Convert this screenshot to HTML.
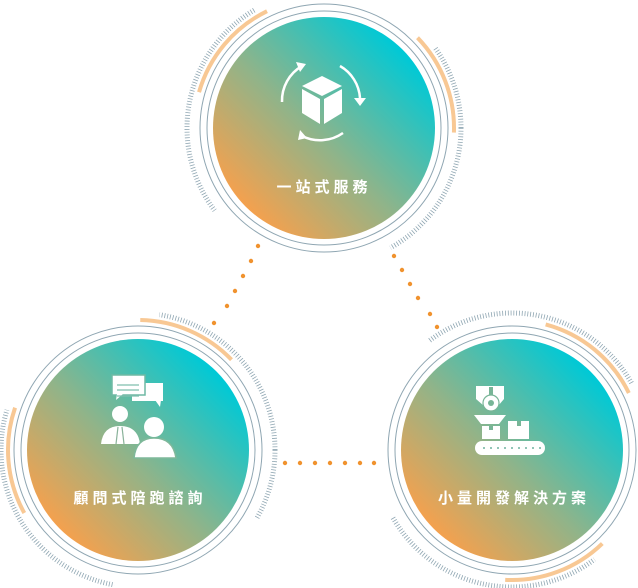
<!DOCTYPE html>
<html><head><meta charset="utf-8"><style>
html,body{margin:0;padding:0;background:#fff;width:638px;height:588px;overflow:hidden}
svg{display:block;overflow:hidden}
text{font-family:"Liberation Sans","Noto Sans CJK TC",sans-serif;font-weight:bold;font-size:15px;fill:#fff;letter-spacing:4px}
</style></head><body>
<svg width="638" height="588" viewBox="0 0 638 588">
<defs>
<linearGradient id="g" x1="0.15" y1="0.85" x2="0.85" y2="0.15">
<stop offset="0" stop-color="#f3a14f"/><stop offset="0.45" stop-color="#8fb48a"/><stop offset="1" stop-color="#00c9d6"/>
</linearGradient>
<mask id="t1" maskUnits="userSpaceOnUse" x="-200" y="-200" width="400" height="400"><circle r="137" fill="none" stroke="#fff" stroke-width="10" pathLength="360" stroke-dasharray="97 263" transform="rotate(143)"/><circle r="137" fill="none" stroke="#fff" stroke-width="10" pathLength="360" stroke-dasharray="97 263" transform="rotate(-36)"/></mask>
<mask id="t2" maskUnits="userSpaceOnUse" x="-200" y="-200" width="400" height="400"><circle r="137" fill="none" stroke="#fff" stroke-width="10" pathLength="360" stroke-dasharray="111 249" transform="rotate(-81)"/><circle r="137" fill="none" stroke="#fff" stroke-width="10" pathLength="360" stroke-dasharray="97 263" transform="rotate(100)"/></mask>
<mask id="t3" maskUnits="userSpaceOnUse" x="-200" y="-200" width="400" height="400"><circle r="137" fill="none" stroke="#fff" stroke-width="10" pathLength="360" stroke-dasharray="98 262" transform="rotate(233)"/><circle r="137" fill="none" stroke="#fff" stroke-width="10" pathLength="360" stroke-dasharray="98 262" transform="rotate(53)"/></mask>
</defs>

<g fill="#f0922e">
<circle cx="258" cy="246" r="2.2"/><circle cx="251" cy="261" r="2.2"/><circle cx="243" cy="276" r="2.2"/><circle cx="235" cy="291" r="2.2"/><circle cx="227" cy="306" r="2.2"/><circle cx="214" cy="323" r="2.2"/>
<circle cx="394" cy="256" r="2.2"/><circle cx="402" cy="270" r="2.2"/><circle cx="410" cy="284" r="2.2"/><circle cx="418" cy="298" r="2.2"/><circle cx="430" cy="314" r="2.2"/><circle cx="437" cy="327" r="2.2"/>
<circle cx="285" cy="463" r="2.2"/><circle cx="300" cy="463" r="2.2"/><circle cx="315" cy="463" r="2.2"/><circle cx="330" cy="463" r="2.2"/><circle cx="345" cy="463" r="2.2"/><circle cx="360" cy="463" r="2.2"/><circle cx="374" cy="463" r="2.2"/>
</g>

<g transform="translate(324,128)">
<circle r="137" fill="none" stroke="#8fa6b2" stroke-width="5" stroke-dasharray="0.8 2" mask="url(#t1)"/>
<circle r="111" fill="url(#g)"/>
<circle r="117" fill="none" stroke="#8fa6b2" stroke-width="1"/>
<circle r="124" fill="none" stroke="#8fa6b2" stroke-width="1"/>
<circle r="130" fill="none" stroke="#f8c894" stroke-width="4" pathLength="360" stroke-dasharray="48 312" transform="rotate(196)"/>
<circle r="130" fill="none" stroke="#f8c894" stroke-width="4" pathLength="360" stroke-dasharray="46 314" transform="rotate(-44)"/>
</g>
<g fill="#fff">
<polygon points="322,76 342,86 322,96 302,86"/><polygon points="302,89 320,99 320,124 302,113" /><polygon points="324,99 342,89 342,113 324,124"/>
</g>
<g fill="none" stroke="#fff" stroke-width="2.5">
<path d="M282,102 A40,40 0 0 1 302,66"/><path d="M340,66 A40,40 0 0 1 360,98"/><path d="M343,133 A40,40 0 0 1 302,136"/>
</g>
<g fill="#fff"><polygon points="296,62 306,64 300,72"/><polygon points="354,98 366,98 360,106"/><polygon points="300,130 298,140 307,138"/></g>
<text x="324" y="192" text-anchor="middle">一站式服務</text>

<g transform="translate(138,450)">
<circle r="137" fill="none" stroke="#8fa6b2" stroke-width="5" stroke-dasharray="0.8 2" mask="url(#t2)"/>
<circle r="111" fill="url(#g)"/>
<circle r="117" fill="none" stroke="#8fa6b2" stroke-width="1"/>
<circle r="124" fill="none" stroke="#8fa6b2" stroke-width="1"/>
<circle r="130" fill="none" stroke="#f8c894" stroke-width="4" pathLength="360" stroke-dasharray="45 315" transform="rotate(-89)"/>
<circle r="130" fill="none" stroke="#f8c894" stroke-width="4" pathLength="360" stroke-dasharray="48 312" transform="rotate(151)"/>
</g>
<g fill="#fff">
<rect x="132" y="383" width="31" height="18"/><polygon points="155,400 161,400 160,407"/>
<rect x="112" y="375" width="33" height="20" stroke="#6fb9a4" stroke-width="1.5"/><polygon points="117,394 123,394 116,400"/>
<circle cx="120" cy="414" r="8"/><path d="M101,444 Q103,426 120,426 Q138,426 140,444 Z"/>
<circle cx="154" cy="427" r="10"/><path d="M134,458 Q136,438 154,438 Q173,438 176,458 Z" stroke="#7fb89a" stroke-width="1.5"/>
</g>
<g fill="none" stroke="#8ab39b" stroke-width="1.2"><path d="M116,444 L118,427 M124,444 L122,427"/><path d="M117,396 h22 M117,390 h22 M117,385 h22" stroke="#7fbfae"/></g>
<text x="140" y="503" text-anchor="middle">顧問式陪跑諮詢</text>

<g transform="translate(512,450)">
<circle r="137" fill="none" stroke="#8fa6b2" stroke-width="5" stroke-dasharray="0.8 2" mask="url(#t3)"/>
<circle r="111" fill="url(#g)"/>
<circle r="117" fill="none" stroke="#8fa6b2" stroke-width="1"/>
<circle r="124" fill="none" stroke="#8fa6b2" stroke-width="1"/>
<circle r="130" fill="none" stroke="#f8c894" stroke-width="4" pathLength="360" stroke-dasharray="49 311" transform="rotate(-75)"/>
<circle r="130" fill="none" stroke="#f8c894" stroke-width="4" pathLength="360" stroke-dasharray="47 313" transform="rotate(46)"/>
</g>
<g fill="#fff">
<path d="M476,386 H504 V399 L498,406 H484 L476,399 Z"/>
<circle cx="491" cy="403" r="8" stroke="#78b597" stroke-width="1.2"/>
<polygon points="474,415 506,415 499,424 481,424"/>
<rect x="482" y="426" width="18" height="13"/><rect x="508" y="421" width="21" height="18"/>
<rect x="475" y="441" width="70" height="14" rx="7"/>
</g>
<circle cx="491" cy="403" r="3" fill="#78b597"/>
<g fill="#78b597"><rect x="489" y="387" width="4" height="8"/><rect x="489" y="426" width="4" height="4"/><rect x="517" y="421" width="4" height="5"/></g>
<g fill="#6fb3a0"><circle cx="484" cy="448" r="1"/><circle cx="491" cy="448" r="1"/><circle cx="498" cy="448" r="1"/><circle cx="505" cy="448" r="1"/><circle cx="512" cy="448" r="1"/><circle cx="519" cy="448" r="1"/><circle cx="526" cy="448" r="1"/><circle cx="533" cy="448" r="1"/><circle cx="540" cy="448" r="1"/></g>
<text x="514" y="503" text-anchor="middle">小量開發解決方案</text>
</svg>
</body></html>
